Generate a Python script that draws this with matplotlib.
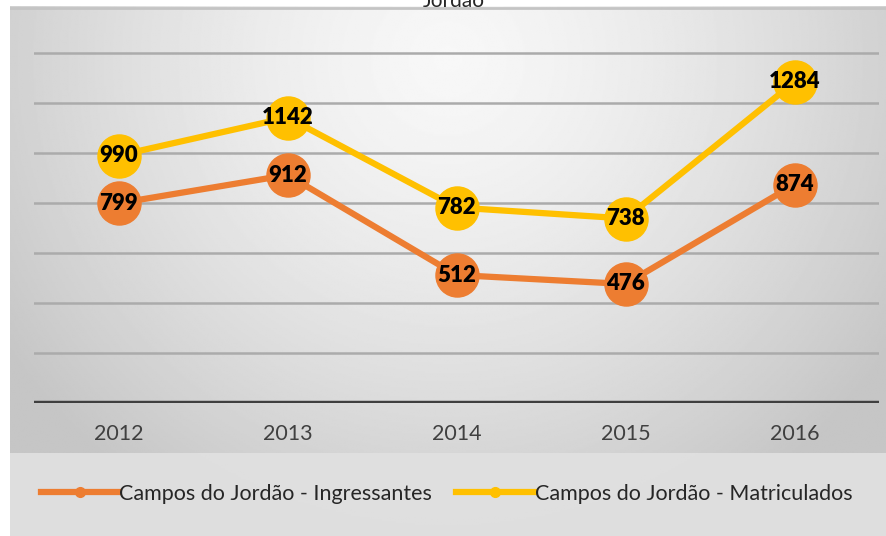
import numpy as np
import matplotlib.pyplot as plt
from matplotlib.lines import Line2D
from matplotlib.patches import Rectangle

years = ['2012', '2013', '2014', '2015', '2016']
ingressantes = [799, 912, 512, 476, 874]
matriculados = [990, 1142, 782, 738, 1284]
labels = ['Campos do Jordão - Ingressantes', 'Campos do Jordão - Matriculados']
colors = ['#ED7D31', '#FFC000']

plt.rcParams['font.family'] = ['Lato', 'DejaVu Sans']

W, H = 886, 536
fig = plt.figure(figsize=(W / 100, H / 100), dpi=100)
fig.patch.set_facecolor('white')

# radial gray gradient for the chart area
bg = fig.add_axes([10 / W, 0, 1 - 10 / W, (H - 6) / H])
bg.set_axis_off()
yy, xx = np.mgrid[0:1:300j, 0:1:600j]
r = np.sqrt(((xx - 0.5) / 0.55) ** 2 + ((yy - 0.1) / 0.9) ** 2)
g = 0.97 - 0.17 * np.clip(r, 0, 1.1) ** 1.4
bg.imshow(g, cmap='gray', vmin=0, vmax=1, aspect='auto', extent=[0, 1, 1, 0])
bg.set_xlim(0, 1)
bg.set_ylim(1, 0)
bg.axhline(0.003, color='#c4c4c4', lw=2)
# legend band
fig.patches.append(Rectangle((10 / W, 0), 1 - 10 / W, 83 / H, transform=fig.transFigure,
                             facecolor='#e1e1e1', edgecolor='none', alpha=0.9, zorder=1))

ax = fig.add_axes([34 / W, 133 / H, 845 / W, 397 / H])
ax.patch.set_visible(False)
x = np.arange(len(years))
ax.set_xlim(-0.5, len(years) - 0.5)
ax.set_ylim(0, 1588)
for v in range(200, 1600, 200):
    ax.axhline(v, color='#ababab', lw=1.8, zorder=1)
ax.axhline(0, color='#3f3f3f', lw=3.2, zorder=2)
for s in ax.spines.values():
    s.set_visible(False)
ax.set_yticks([])
ax.set_xticks(x)
ax.set_xticklabels(years, fontsize=15.5, color='#404040')
ax.tick_params(axis='x', length=0, pad=15)

for vals, c in zip([ingressantes, matriculados], colors):
    ax.plot(x, vals, color=c, lw=4.5, marker='o', markersize=31, zorder=3)
    for xi, v in zip(x, vals):
        ax.text(xi, v, str(v), ha='center', va='center', fontsize=16,
                fontweight='heavy', color='black', zorder=4)

handles = [Line2D([], [], color=c, lw=4.5, marker='o', markersize=7) for c in colors]
fig.legend(handles, labels, loc='center', bbox_to_anchor=(0.504, 42 / H), ncol=2,
           frameon=False, fontsize=15.5, handlelength=3.6, handletextpad=0.05,
           columnspacing=1.1, labelcolor='#262626')

fig.text(0.512, 0.998, 'Jordão', ha='center', va='center', fontsize=15, color='#262626')

fig.savefig('out.png', dpi=100)
